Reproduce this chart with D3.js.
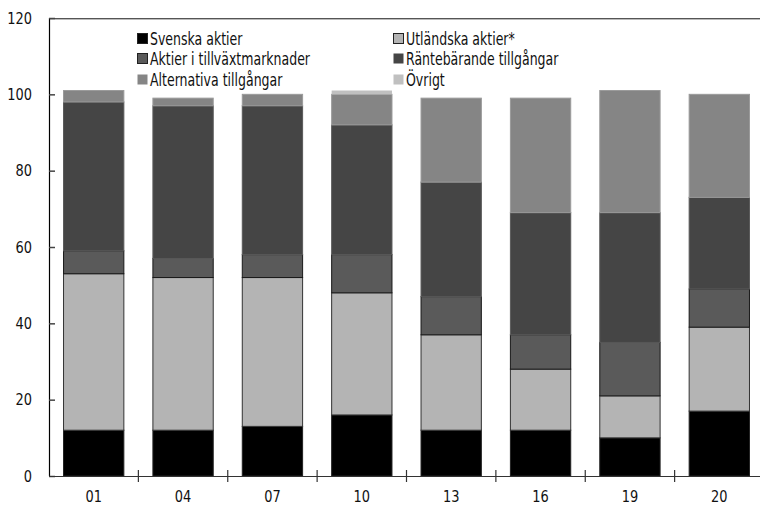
<!DOCTYPE html>
<html><head><meta charset="utf-8">
<script src="https://cdn.jsdelivr.net/npm/d3@7"></script>
<style>
html,body{margin:0;padding:0;background:#fff;}
svg{display:block;}
text{font-family:"DejaVu Sans Condensed","Liberation Sans Narrow",sans-serif;fill:#111;}
</style></head>
<body>
<svg id="chart" width="760" height="507"></svg>
<script>
const categories = ["01","04","07","10","13","16","19","20"];
const seriesNames = ["Svenska aktier","Utländska aktier*","Aktier i tillväxtmarknader","Räntebärande tillgångar","Alternativa tillgångar","Övrigt"];
const svenska    = [12, 12, 13, 16, 12, 12, 10, 17];
const utlandska  = [41, 40, 39, 32, 25, 16, 11, 22];
const tillvaxt   = [ 6,  5,  6, 10, 10,  9, 14, 10];
const rante      = [39, 40, 39, 34, 30, 32, 34, 24];
const alternativ = [ 3,  2,  3,  8, 22, 30, 32, 27];
const ovrigt     = [ 0,  0,  0,  1,  0,  0,  0,  0];
const yTicks = [0, 20, 40, 60, 80, 100, 120];

const fills   = ["#000000","#b4b4b4","#5a5a5a","#454545","#858585","#c0c0c0"];
const strokes = ["#222","#333","#1a1a1a","#5a5a5a","#9a9a9a","none"];
const legendOrder = [0,1,2,3,4,5];

const svg = d3.select("#chart");
const m = {left:49, top:18, right:-4, bottom:31};
const W = 760, H = 507;
const x = d3.scaleBand().domain(categories).range([m.left, W - m.right]).paddingInner(0.325).paddingOuter(0.1625);
const y = d3.scaleLinear().domain([0,120]).range([H - m.bottom, m.top]);

const allSeries = [svenska, utlandska, tillvaxt, rante, alternativ, ovrigt];
const rows = categories.map((c,i)=>{const r={cat:c}; seriesNames.forEach((s,j)=>r[s]=allSeries[j][i]); return r;});
const stacked = d3.stack().keys(seriesNames)(rows);

// top border
svg.append("line").attr("x1",m.left).attr("x2",W).attr("y1",m.top+0.5).attr("y2",m.top+0.5)
  .attr("stroke","#555").attr("stroke-width",1.2);
svg.append("line").attr("x1",m.left).attr("x2",W).attr("y1",m.top+1.5).attr("y2",m.top+1.5)
  .attr("stroke","#bbb").attr("stroke-width",1);

// bars
stacked.forEach((layer,j)=>{
  svg.append("g").selectAll("rect").data(layer.filter(d=>d[1]-d[0]>0)).join("rect")
    .attr("x",d=>x(d.data.cat)).attr("width",x.bandwidth())
    .attr("y",d=>y(d[1])).attr("height",d=>y(d[0])-y(d[1]))
    .attr("fill",fills[j]).attr("stroke",strokes[j]).attr("stroke-width",1);
});

const NUM_SX = 0.9, LEG_SX = 0.82;

// y axis
const yAxis = svg.append("g").attr("transform",`translate(${m.left},0)`)
  .call(d3.axisRight(y).tickValues(yTicks).tickSize(6).tickFormat(""));
yAxis.select(".domain").attr("d",`M0.5,${y(0)}V${y(120)}`).attr("stroke","#000").attr("stroke-width",1.2);
yAxis.selectAll(".tick line").attr("stroke","#444").attr("stroke-width",1.5);
svg.append("g").selectAll("text").data(yTicks).join("text")
  .attr("transform",d=>`translate(32,${y(d)}) scale(${NUM_SX},1)`).attr("dy","0.36em").attr("text-anchor","end")
  .attr("font-size",16).text(d=>d);

// x axis
const xb = svg.append("g").attr("transform",`translate(0,${y(0)})`);
xb.append("line").attr("x1",m.left).attr("x2",W).attr("y1",0.5).attr("y2",0.5).attr("stroke","#333").attr("stroke-width",1.2);
const step = x.step();
const bounds = categories.slice(1).map(c=>x(c) - (step - x.bandwidth())/2);
xb.selectAll("line.tk").data(bounds).join("line").attr("class","tk")
  .attr("x1",d=>d).attr("x2",d=>d).attr("y1",-6).attr("y2",6).attr("stroke","#333").attr("stroke-width",1.2);
xb.selectAll("text").data(categories).join("text")
  .attr("transform",d=>`translate(${x(d)+x.bandwidth()/2},26) scale(${NUM_SX},1)`).attr("text-anchor","middle")
  .attr("font-size",16).text(d=>d);

// legend
const legPos = [[137,39],[393,39],[137,59],[393,59],[137,80],[393,80]];
const leg = svg.append("g");
legendOrder.forEach((j,k)=>{
  const [lx,ly] = legPos[k];
  leg.append("rect").attr("x",lx+0.5).attr("y",ly-5.5).attr("width",10).attr("height",10)
    .attr("fill",fills[j]).attr("stroke", j===3||j===4||j===5 ? "none" : "#222").attr("stroke-width",1);
  leg.append("text").attr("transform",`translate(${lx+13},${ly}) scale(${LEG_SX},1)`).attr("dy","0.36em")
    .attr("font-size",17).text(seriesNames[j]);
});
</script>
</body></html>
